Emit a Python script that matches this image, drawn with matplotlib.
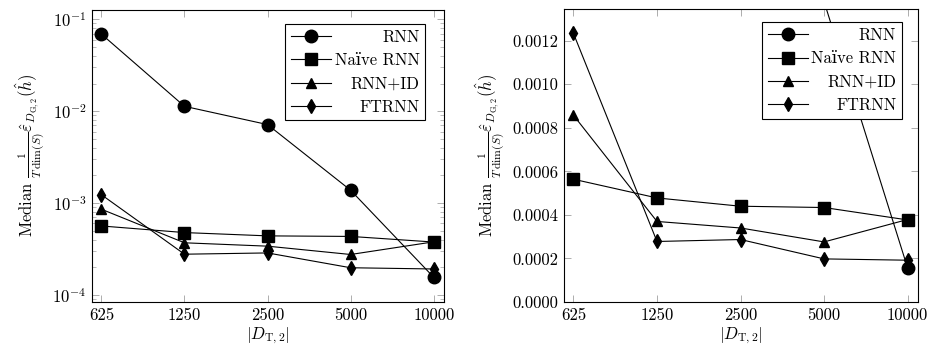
import matplotlib
matplotlib.use("Agg")
import matplotlib.pyplot as plt
import numpy as np
from matplotlib.ticker import FixedLocator, FixedFormatter, LogLocator, NullFormatter, FormatStrFormatter

plt.rcParams['font.family'] = ['cmr10', 'DejaVu Serif']
plt.rcParams['mathtext.fontset'] = 'cm'
plt.rcParams['axes.unicode_minus'] = False
plt.rcParams['axes.formatter.use_mathtext'] = True
plt.rcParams['font.size'] = 12

sizes = [625, 1250, 2500, 5000, 10000]
size_labels = ["625", "1250", "2500", "5000", "10000"]
rnn = [0.069, 0.0113, 0.00715, 0.00138, 0.000156]
naive_rnn = [0.000564, 0.000478, 0.00044, 0.000434, 0.000377]
rnn_id = [0.000858, 0.000370, 0.00034, 0.000276, 0.000379]
ftrnn = [0.001234, 0.000278, 0.000287, 0.000198, 0.000192]

series = [
    ("RNN", rnn, 'o', 9),
    ("Naïve RNN", naive_rnn, 's', 8.5),
    ("RNN+ID", rnn_id, '^', 7.5),
    ("FTRNN", ftrnn, 'd', 7.5),
]

fig = plt.figure(figsize=(9.28, 3.52), dpi=100)
ax1 = fig.add_axes([92/928, 50/352, 352/928, 292/352])
ax2 = fig.add_axes([564/928, 50/352, 354/928, 293/352])

ylabel = r'Median $\frac{1}{T\,\mathrm{dim}(S)}\hat{\varepsilon}_{D_{\mathrm{G},2}}(\hat{h})$'
xlabel = r'$|D_{\mathrm{T},2}|$'

def right_align_legend(leg):
    fig.canvas.draw()
    r = fig.canvas.get_renderer()
    texts = leg.get_texts()
    widths = [t.get_window_extent(r).width for t in texts]
    w = max(widths)
    for t, wi in zip(texts, widths):
        t.set_position((w - wi, 0))

for ax in (ax1, ax2):
    for name, vals, m, ms in series:
        ax.plot(sizes, vals, color='black', lw=0.8, marker=m, markersize=ms, label=name)
    ax.set_xscale('log', base=2)
    ax.set_xlim(625 * 2**-0.113, 10000 * 2**0.124)
    ax.xaxis.set_major_locator(FixedLocator(sizes))
    ax.xaxis.set_major_formatter(FixedFormatter(size_labels))
    ax.xaxis.set_minor_locator(FixedLocator([]))
    ax.tick_params(which='both', direction='in', top=True, right=True, color='#a0a0a0')
    ax.tick_params(which='major', length=5, width=0.6, labelsize=12, pad=4)
    ax.tick_params(which='minor', length=3, width=0.5)
    for s in ax.spines.values():
        s.set_linewidth(0.8)
    ax.set_xlabel(xlabel, fontsize=12, labelpad=2)
    ax.set_ylabel(ylabel, fontsize=12, labelpad=4)

ax1.set_yscale('log')
ax1.set_ylim(10**-4.076, 10**-0.899)
ax1.yaxis.set_major_locator(LogLocator(base=10, numticks=10))
ax1.yaxis.set_minor_locator(LogLocator(base=10, subs=np.arange(2, 10), numticks=20))
ax1.yaxis.set_minor_formatter(NullFormatter())

ax2.set_ylim(0, 0.001346)
ax2.yaxis.set_major_locator(FixedLocator([0, 0.0002, 0.0004, 0.0006, 0.0008, 0.0010, 0.0012]))
ax2.yaxis.set_major_formatter(FormatStrFormatter('%.4f'))

leg_kw = dict(loc='upper right', frameon=True, fancybox=False,
              edgecolor='black', framealpha=1, borderpad=0.35, labelspacing=0.47,
              handlelength=2.4, handletextpad=0.2, borderaxespad=0, fontsize=12)
leg1 = ax1.legend(bbox_to_anchor=(0.947, 0.952), **leg_kw)
leg1.get_frame().set_linewidth(0.8)
leg2 = ax2.legend(bbox_to_anchor=(0.955, 0.955), **leg_kw)
leg2.get_frame().set_linewidth(0.8)
right_align_legend(leg1)
right_align_legend(leg2)

fig.savefig('out.png', dpi=100)
